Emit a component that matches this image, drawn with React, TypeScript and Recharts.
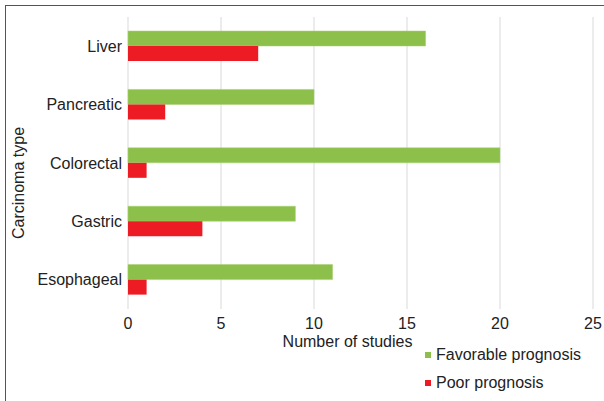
import React from "react";
import {
  BarChart,
  Bar,
  XAxis,
  YAxis,
  CartesianGrid,
  Legend,
} from "recharts";

// Carcinoma types, top to bottom
const categories = ["Liver", "Pancreatic", "Colorectal", "Gastric", "Esophageal"];
const favorable = [16, 10, 20, 9, 11];
const poor = [7, 2, 1, 4, 1];
const xTicks = [0, 5, 10, 15, 20, 25];

const chartData = categories.map((name, i) => ({
  name,
  favorable: favorable[i],
  poor: poor[i],
}));

const FONT = "'Liberation Sans', Arial, sans-serif";
const TEXT = "#222";

const renderLegend = (props: any) => {
  const { payload } = props;
  return (
    <div style={{ fontFamily: FONT, fontSize: 16, color: TEXT }}>
      {(payload || []).map((entry: any) => (
        <div
          key={entry.value}
          style={{ display: "flex", alignItems: "center", height: 28 }}
        >
          <span
            style={{
              display: "inline-block",
              width: 6,
              height: 6,
              background: entry.color,
              marginRight: 5,
            }}
          />
          <span>{entry.value}</span>
        </div>
      ))}
    </div>
  );
};

const App: React.FC = () => {
  return (
    <div
      style={{
        position: "absolute",
        left: 0,
        top: 0,
        width: 604,
        height: 401,
        background: "#fff",
      }}
    >
      <div
        style={{
          position: "absolute",
          left: 5,
          top: 5,
          right: 0,
          bottom: 0,
          borderTop: "1.5px solid #555",
          borderLeft: "1.5px solid #555",
        }}
      />
      <BarChart
        width={604}
        height={401}
        data={chartData}
        layout="vertical"
        margin={{ top: 17, right: 11, left: 8, bottom: 42 }}
        barCategoryGap="24%"
        barGap={0}
        style={{ position: "absolute", left: 0, top: 0 }}
      >
        <CartesianGrid horizontal={false} stroke="#d9d9d9" />
        <XAxis
          type="number"
          domain={[0, 25]}
          ticks={xTicks}
          axisLine={false}
          tickLine={false}
          tickMargin={3}
          height={50}
          tick={{ fontSize: 16, fill: TEXT, fontFamily: FONT }}
          label={{
            value: "Number of studies",
            position: "insideBottom",
            offset: 12,
            dx: -13,
            style: { fontSize: 16, fill: TEXT, fontFamily: FONT },
          }}
        />
        <YAxis
          type="category"
          dataKey="name"
          width={120}
          axisLine={false}
          tickLine={false}
          tickMargin={0}
          tick={{ fontSize: 16, fill: TEXT, fontFamily: FONT }}
          label={{
            value: "Carcinoma type",
            angle: -90,
            position: "center",
            dx: -50,
            dy: 20,
            style: { fontSize: 16, fill: TEXT, fontFamily: FONT, textAnchor: "middle" },
          }}
        />
        <Legend
          layout="vertical"
          align="center"
          verticalAlign="middle"
          content={renderLegend}
          wrapperStyle={{ left: 425, top: 341, width: 180 }}
        />
        <Bar
          dataKey="favorable"
          name="Favorable prognosis"
          fill="#8cc04a"
          stroke="#a6d070"
          strokeWidth={0.5}
          isAnimationActive={false}
        />
        <Bar
          dataKey="poor"
          name="Poor prognosis"
          fill="#ed1c24"
          isAnimationActive={false}
        />
      </BarChart>
    </div>
  );
};

export default App;
